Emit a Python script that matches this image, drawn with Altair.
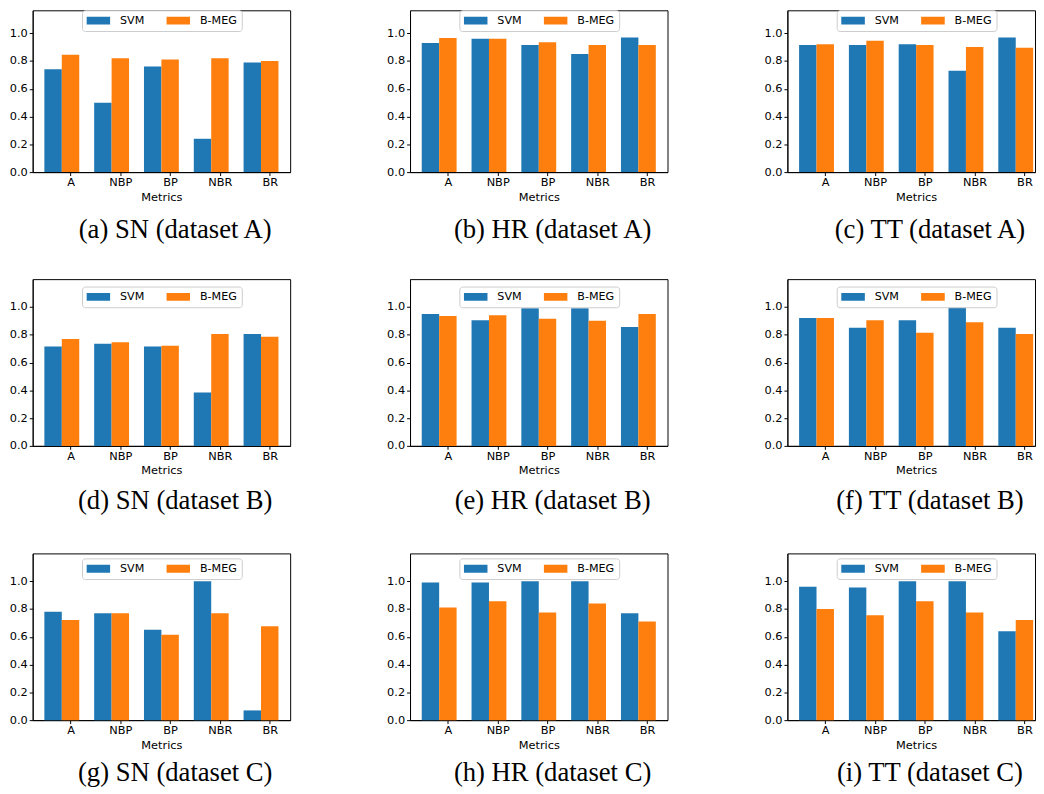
import altair as alt
import pandas as pd

metrics = ["A", "NBP", "BP", "NBR", "BR"]
series_names = ["SVM", "B-MEG"]
colors = ["#1f77b4", "#ff7f0e"]

captions = [
    "(a) SN (dataset A)", "(b) HR (dataset A)", "(c) TT (dataset A)",
    "(d) SN (dataset B)", "(e) HR (dataset B)", "(f) TT (dataset B)",
    "(g) SN (dataset C)", "(h) HR (dataset C)", "(i) TT (dataset C)",
]

svm_sn_a = [0.74, 0.50, 0.76, 0.24, 0.79]
bmeg_sn_a = [0.845, 0.82, 0.81, 0.82, 0.80]
svm_hr_a = [0.93, 0.96, 0.915, 0.85, 0.97]
bmeg_hr_a = [0.965, 0.96, 0.935, 0.915, 0.915]
svm_tt_a = [0.915, 0.915, 0.92, 0.73, 0.97]
bmeg_tt_a = [0.92, 0.945, 0.915, 0.90, 0.895]

svm_sn_b = [0.715, 0.735, 0.715, 0.385, 0.805]
bmeg_sn_b = [0.77, 0.745, 0.72, 0.805, 0.785]
svm_hr_b = [0.95, 0.905, 0.99, 0.99, 0.855]
bmeg_hr_b = [0.935, 0.94, 0.915, 0.90, 0.95]
svm_tt_b = [0.92, 0.85, 0.905, 1.0, 0.85]
bmeg_tt_b = [0.92, 0.905, 0.815, 0.89, 0.805]

svm_sn_c = [0.78, 0.77, 0.65, 1.0, 0.07]
bmeg_sn_c = [0.72, 0.77, 0.615, 0.77, 0.675]
svm_hr_c = [0.99, 0.99, 1.0, 1.0, 0.77]
bmeg_hr_c = [0.81, 0.855, 0.775, 0.84, 0.71]
svm_tt_c = [0.96, 0.955, 1.0, 1.0, 0.64]
bmeg_tt_c = [0.80, 0.755, 0.855, 0.775, 0.72]

y_ticks = [0.0, 0.2, 0.4, 0.6, 0.8, 1.0]

panels_data = [
    (svm_sn_a, bmeg_sn_a), (svm_hr_a, bmeg_hr_a), (svm_tt_a, bmeg_tt_a),
    (svm_sn_b, bmeg_sn_b), (svm_hr_b, bmeg_hr_b), (svm_tt_b, bmeg_tt_b),
    (svm_sn_c, bmeg_sn_c), (svm_hr_c, bmeg_hr_c), (svm_tt_c, bmeg_tt_c),
]

BAR_W = 0.35
SANS = "DejaVu Sans"
SERIF = "Liberation Serif"
label_expr = "[" + ",".join(f"'{m}'" for m in metrics) + f"][round(datum.value - {BAR_W})]"

FULL_W = 261
X_LO, X_HI = -0.41, 4.76


def make_panel(svm, bmeg, caption, ymax, height, legend_y, width, cap_offset):
    x_hi = X_LO + (X_HI - X_LO) * width / FULL_W
    df = pd.DataFrame({
        "idx": list(range(len(metrics))) * 2,
        "metric": metrics * 2,
        "series": [series_names[0]] * len(svm) + [series_names[1]] * len(bmeg),
        "value": svm + bmeg,
    })
    return alt.Chart(df).transform_calculate(
        x0=f"datum.idx + (datum.series == 'SVM' ? {-BAR_W / 2} : {BAR_W / 2})",
        x1=f"datum.idx + (datum.series == 'SVM' ? {BAR_W / 2} : {1.5 * BAR_W})",
    ).mark_bar().encode(
        x=alt.X("x0:Q",
                scale=alt.Scale(domain=[X_LO, x_hi], nice=False, zero=False),
                axis=alt.Axis(title="Metrics", values=[i + BAR_W for i in range(len(metrics))],
                              labelExpr=label_expr, tickSize=3.5, labelPadding=1.5,
                              titlePadding=3, titleX=FULL_W / 2)),
        x2="x1:Q",
        y=alt.Y("value:Q",
                scale=alt.Scale(domain=[0, ymax], nice=False, zero=True),
                axis=alt.Axis(title=None, values=y_ticks, format=".1f", tickSize=3.5,
                              labelPadding=2)),
        y2=alt.datum(0),
        color=alt.Color("series:N",
                        scale=alt.Scale(domain=series_names, range=colors),
                        legend=alt.Legend(
                            title=None, orient="none", legendX=50, legendY=legend_y,
                            direction="horizontal", columns=2,
                            symbolType="M-1,-0.333H1V0.333H-1Z", symbolSize=576,
                            clipHeight=12, symbolStrokeWidth=0, symbolOpacity=1,
                            labelFont=SANS, labelFontSize=11.3, labelColor="black",
                            labelOffset=10, columnPadding=22, padding=4.5,
                            strokeColor="#cccccc", fillColor="white", cornerRadius=3,
                        )),
        tooltip=["metric:N", "series:N", "value:Q"],
    ).properties(
        width=width, height=height,
        title=alt.TitleParams(caption, orient="bottom", font=SERIF, fontSize=27,
                              fontWeight="normal", color="black", offset=cap_offset,
                              frame="group", anchor="start",
                              dx=FULL_W / 2 + 14, align="center"),
    )


panels = []
for k, ((svm, bmeg), cap) in enumerate(zip(panels_data, captions)):
    row, col = divmod(k, 3)
    width = 251 if col == 2 else FULL_W
    if row == 0:
        panels.append(make_panel(svm, bmeg, cap, 1.165, 164, 0, width, 15))
    elif row == 1:
        panels.append(make_panel(svm, bmeg, cap, 1.2, 169, 7.5, width, 12))
    else:
        panels.append(make_panel(svm, bmeg, cap, 1.2, 169, 5, width, 10))

rows = [
    alt.hconcat(*panels[r * 3:(r + 1) * 3], spacing=95.5)
    .resolve_scale(color="independent").resolve_legend(color="independent")
    for r in range(3)
]

lower = alt.vconcat(rows[1], rows[2], spacing=38).resolve_scale(
    color="independent").resolve_legend(color="independent")

chart = alt.vconcat(rows[0], lower, spacing=34.5).resolve_scale(
    color="independent").resolve_legend(color="independent").properties(
    padding={"left": 0, "top": -4, "right": 0, "bottom": 0},
).configure_view(
    stroke="black", strokeWidth=1,
).configure_axis(
    grid=False, domainColor="black", tickColor="black", labelColor="black",
    titleColor="black", labelFont=SANS, titleFont=SANS, labelFontSize=11.5,
    titleFontSize=11.5, titleFontWeight="normal", domainWidth=1, tickWidth=1,
)

chart.save("out.html", embed_options={"renderer": "svg", "actions": False})
